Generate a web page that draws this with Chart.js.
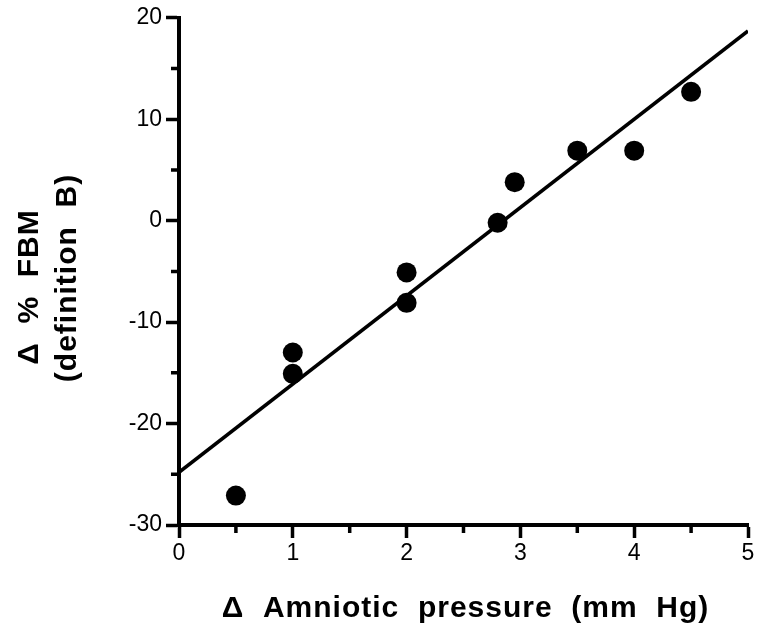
<!DOCTYPE html>
<html>
<head>
<meta charset="utf-8">
<script src="https://cdn.jsdelivr.net/npm/chart.js@4"></script>
<style>
  html, body { margin: 0; padding: 0; background: #fff; }
  #wrap { width: 758px; height: 635px; }
</style>
</head>
<body>
<div id="wrap"><canvas id="c" width="758" height="635"></canvas></div>
<script>
// Measured points: change in amniotic pressure vs change in % FBM
const pressure  = [0.5, 1, 1, 2, 2, 2.8, 2.95, 3.5, 4, 4.5];
const fbmChange = [-27.1, -13, -15.1, -5.1, -8.1, -0.2, 3.8, 6.9, 6.9, 12.7];

// Regression line end points
const fitX = [0, 5];
const fitY = [-24.8, 18.7];

// Axis ticks
const xTicks = [0, 1, 2, 3, 4, 5];
const yTicks = [20, 10, 0, -10, -20, -30];
const xMinorTicks = [0.5, 1.5, 2.5, 3.5, 4.5];
const yMinorTicks = [15, 5, -5, -15, -25];

const xTitle = 'Δ  Amniotic  pressure  (mm  Hg)';
const yTitle = ['Δ  %  FBM', '(definition  B)'];

const INK = '#000';
const TICK_FONT = { family: 'Arial, "Liberation Sans", sans-serif', size: 23 };
const TITLE_FONT = 'bold 30px Arial, "Liberation Sans", sans-serif';

// Short minor tick marks plus the two axis titles
const decorations = {
  id: 'decorations',
  afterDraw(chart) {
    const { ctx, scales: { x, y } } = chart;
    ctx.save();
    ctx.strokeStyle = INK;
    ctx.lineWidth = 3.5;
    ctx.lineCap = 'butt';
    ctx.beginPath();
    xMinorTicks.forEach(v => {
      const px = x.getPixelForValue(v);
      ctx.moveTo(px, y.bottom);
      ctx.lineTo(px, y.bottom + 8);
    });
    yMinorTicks.forEach(v => {
      const py = y.getPixelForValue(v);
      ctx.moveTo(x.left - 8, py);
      ctx.lineTo(x.left, py);
    });
    ctx.stroke();

    ctx.fillStyle = INK;
    ctx.font = TITLE_FONT;
    if ('letterSpacing' in ctx) ctx.letterSpacing = '1px';
    ctx.textAlign = 'center';
    ctx.textBaseline = 'alphabetic';
    ctx.fillText(xTitle, (x.left + x.right) / 2 + 2, 617);

    const centers = [287, 278];
    const baselines = [38, 76];
    yTitle.forEach((line, i) => {
      ctx.save();
      ctx.translate(baselines[i], centers[i]);
      ctx.rotate(-Math.PI / 2);
      ctx.fillText(line, 0, 0);
      ctx.restore();
    });
    ctx.restore();
  }
};

new Chart(document.getElementById('c'), {
  type: 'scatter',
  data: {
    datasets: [
      {
        label: 'fit',
        type: 'line',
        data: fitX.map((v, i) => ({ x: v, y: fitY[i] })),
        borderColor: INK,
        borderWidth: 3.5,
        pointRadius: 0,
        fill: false,
        tension: 0
      },
      {
        label: 'points',
        data: pressure.map((v, i) => ({ x: v, y: fbmChange[i] })),
        backgroundColor: INK,
        borderColor: INK,
        borderWidth: 0,
        pointRadius: 10,
        pointHoverRadius: 10
      }
    ]
  },
  options: {
    responsive: false,
    animation: false,
    devicePixelRatio: 1,
    layout: { padding: { top: 17, right: 6, left: 0, bottom: 0 } },
    plugins: { legend: { display: false }, tooltip: { enabled: false } },
    scales: {
      x: {
        type: 'linear',
        min: 0,
        max: 5,
        afterBuildTicks: s => { s.ticks = xTicks.map(v => ({ value: v })); },
        afterFit: s => { s.height = 110; },
        ticks: { color: INK, font: TICK_FONT, padding: 2, maxRotation: 0 },
        grid: { display: true, drawOnChartArea: false, drawTicks: true, tickLength: 13, tickWidth: 3.5, tickColor: INK },
        border: { display: true, color: INK, width: 4 }
      },
      y: {
        type: 'linear',
        min: -30,
        max: 20,
        afterBuildTicks: s => { s.ticks = yTicks.map(v => ({ value: v })); },
        afterFit: s => { s.width = 179; },
        ticks: { color: INK, font: TICK_FONT, padding: 4 },
        grid: { display: true, drawOnChartArea: false, drawTicks: true, tickLength: 13, tickWidth: 3.5, tickColor: INK },
        border: { display: true, color: INK, width: 4 }
      }
    }
  },
  plugins: [decorations]
});
</script>
</body>
</html>
